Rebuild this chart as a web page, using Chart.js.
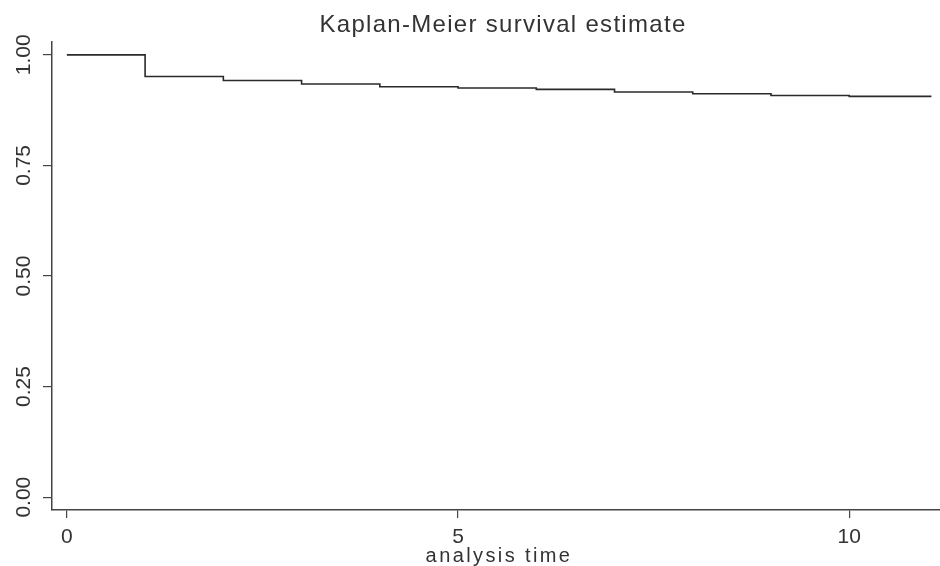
<!DOCTYPE html>
<html>
<head>
<meta charset="utf-8">
<script src="https://cdn.jsdelivr.net/npm/chart.js@4.4.1/dist/chart.umd.min.js"></script>
<style>
  html, body { margin: 0; padding: 0; background: #fff; }
  #wrap { width: 940px; height: 566px; }
</style>
</head>
<body>
<div id="wrap"><canvas id="km"></canvas></div>
<script>
// KM step function
const analysisTime = [0, 1, 2, 3, 4, 5, 6, 7, 8, 9, 10, 11.05];
const survival = [1.000, 0.951, 0.942, 0.934, 0.928, 0.925, 0.922, 0.916, 0.912, 0.908, 0.906, 0.906];
const xTickValues = [0, 5, 10];
const yTickValues = [0, 0.25, 0.5, 0.75, 1];
const chartTitle = 'Kaplan-Meier survival estimate';
const xAxisTitle = 'analysis time';

const ink = '#333';
const fontFamily = "'Liberation Sans', Arial, sans-serif";

const points = analysisTime.map((t, i) => ({ x: t, y: survival[i] }));

// title, rotated y labels and spaced x title
const textPlugin = {
  id: 'kmText',
  afterDraw(chart) {
    const ctx = chart.ctx;
    const y = chart.scales.y;
    ctx.save();
    ctx.fillStyle = ink;
    ctx.textAlign = 'center';
    ctx.textBaseline = 'middle';

    ctx.font = '24px ' + fontFamily;
    ctx.letterSpacing = '1.3px';
    ctx.fillText(chartTitle, 503, 25);

    ctx.letterSpacing = '0px';
    ctx.font = '21px ' + fontFamily;
    yTickValues.forEach(v => {
      ctx.save();
      ctx.translate(24, y.getPixelForValue(v));
      ctx.rotate(-Math.PI / 2);
      ctx.fillText(v.toFixed(2), 0, 0);
      ctx.restore();
    });

    ctx.font = '20px ' + fontFamily;
    ctx.letterSpacing = '2.4px';
    ctx.fillText(xAxisTitle, 499, 556);
    ctx.restore();
  }
};

new Chart(document.getElementById('km'), {
  type: 'line',
  data: {
    datasets: [{
      data: points,
      stepped: 'before',
      borderColor: '#2a2a2a',
      borderWidth: 1.6,
      pointRadius: 0,
      fill: false
    }]
  },
  options: {
    responsive: true,
    maintainAspectRatio: false,
    animation: false,
    layout: { padding: { top: 42, right: 0, left: 0, bottom: 0 } },
    plugins: {
      legend: { display: false },
      tooltip: { enabled: false },
      title: { display: false }
    },
    scales: {
      x: {
        type: 'linear',
        min: -0.19,
        max: 11.16,
        afterBuildTicks: s => { s.ticks = xTickValues.map(v => ({ value: v })); },
        afterFit: s => { s.height = 56; },
        border: { color: '#444', width: 1.5 },
        grid: { drawOnChartArea: false, drawTicks: true, tickLength: 8, color: '#444', lineWidth: 1.2 },
        ticks: { color: ink, font: { family: fontFamily, size: 21 }, padding: 7, maxRotation: 0 }
      },
      y: {
        type: 'linear',
        min: -0.029,
        max: 1.029,
        afterBuildTicks: s => { s.ticks = yTickValues.map(v => ({ value: v })); },
        afterFit: s => { s.width = 52; },
        border: { color: '#444', width: 1.5 },
        grid: { drawOnChartArea: false, drawTicks: true, tickLength: 9, color: '#444', lineWidth: 1.2 },
        ticks: { display: false }
      }
    }
  },
  plugins: [textPlugin]
});
</script>
</body>
</html>
